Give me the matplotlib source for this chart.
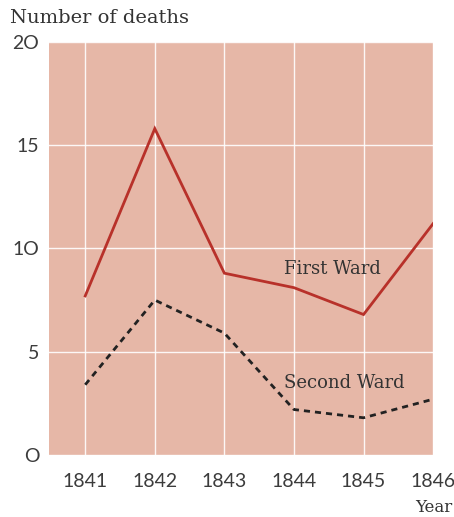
import matplotlib
matplotlib.use("Agg")
import matplotlib.pyplot as plt

# Anni e morti
years = [1841, 1842, 1843, 1844, 1845, 1846]
first_ward = [7.7, 15.8, 8.8, 8.1, 6.8, 11.2]
second_ward = [3.4, 7.5, 5.9, 2.2, 1.8, 2.7]
yticks = [0, 5, 10, 15, 20]

fig = plt.figure(figsize=(4.54, 5.17), dpi=100)
ax = fig.add_axes([0.108, 0.12, 0.846, 0.799])
ax.set_facecolor("#e6b7a7")

ax.plot(years, first_ward, color="#b8312a", lw=2, solid_joinstyle="miter", zorder=3)
ax.plot(years, second_ward, color="#222222", lw=2, linestyle=(0, (2.2, 1.8)), zorder=3)

ax.set_xlim(1840.48, 1846)
ax.set_ylim(0, 20)
ax.set_xticks(years)
ax.set_yticks(yticks)
ax.set_yticklabels([str(v).replace("0", "O") for v in yticks])
ax.grid(True, color="white", lw=1, alpha=0.9)
ax.set_axisbelow(True)
for s in ax.spines.values():
    s.set_visible(False)
ax.tick_params(length=0, labelsize=14, labelcolor="#3c3c3c")
ax.tick_params(axis="x", pad=13)
ax.tick_params(axis="y", pad=7)
for lab in ax.get_xticklabels() + ax.get_yticklabels():
    lab.set_family("Lato")

ax.text(1843.85, 9.0, "First Ward", fontsize=13, family="DejaVu Serif",
        color="#333333", va="center")
ax.text(1843.85, 3.5, "Second Ward", fontsize=13, family="DejaVu Serif",
        color="#333333", va="center")

fig.text(0.022, 0.965, "Number of deaths", fontsize=14, family="DejaVu Serif",
         color="#333333", va="center")
fig.text(0.997, 0.018, "Year", fontsize=12, family="DejaVu Serif",
         color="#333333", ha="right", va="center")

fig.savefig("out.png", dpi=100)
